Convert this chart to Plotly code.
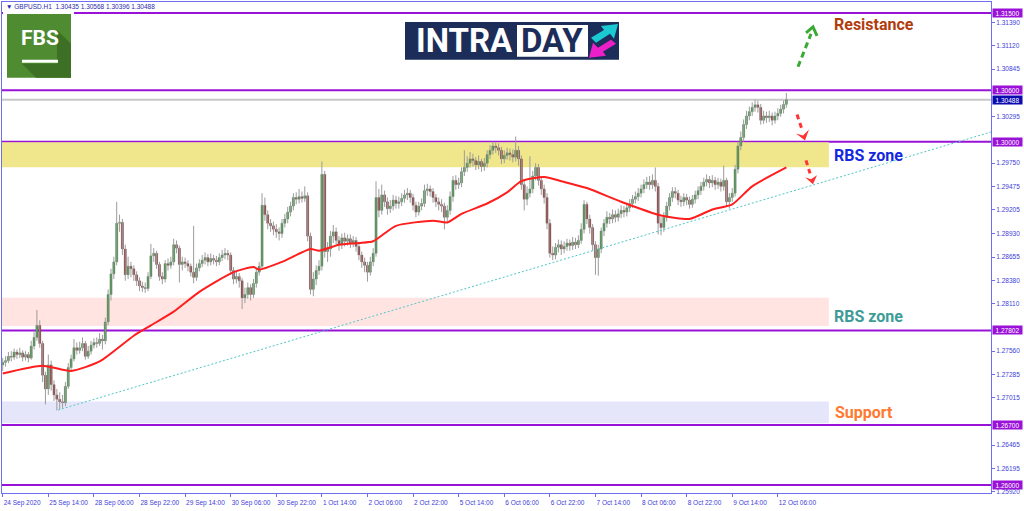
import plotly.graph_objects as go

# GBPUSD H1, one bar per hour from 24 Sep 22:00 to 12 Oct 09:00 (rows = 16 bars)
first_open = 1.2740
close = [
    1.2743, 1.2745, 1.2750, 1.2749, 1.2755, 1.2752, 1.2754, 1.2749, 1.2752, 1.2748, 1.2762, 1.2772, 1.2786, 1.2765, 1.2728, 1.2712,
    1.2740, 1.2717, 1.2705, 1.2700, 1.2697, 1.2696, 1.2715, 1.2737, 1.2747, 1.2760, 1.2757, 1.2760, 1.2765, 1.2750, 1.2756, 1.2763,
    1.2766, 1.2765, 1.2770, 1.2768, 1.2790, 1.2822, 1.2846, 1.2860, 1.2905, 1.2906, 1.2875, 1.2845, 1.2855, 1.2852, 1.2845, 1.2838,
    1.2832, 1.2830, 1.2829, 1.2843, 1.2867, 1.2870, 1.2857, 1.2843, 1.2840, 1.2858, 1.2856, 1.2860, 1.2880, 1.2876, 1.2857, 1.2860,
    1.2858, 1.2855, 1.2848, 1.2842, 1.2853, 1.2858, 1.2862, 1.2865, 1.2860, 1.2864, 1.2862, 1.2860, 1.2865, 1.2868, 1.2870, 1.2868,
    1.2850, 1.2840, 1.2843, 1.2838, 1.2818, 1.2822, 1.2830, 1.2822, 1.2835, 1.2848, 1.2855, 1.2926, 1.2915, 1.2905, 1.2902, 1.2898,
    1.2895, 1.2893, 1.2905, 1.2910, 1.2918, 1.2925, 1.2935, 1.2933, 1.2936, 1.2934, 1.2937, 1.2890, 1.2828, 1.2840, 1.2850, 1.2855,
    1.2962, 1.2872, 1.2875, 1.2890, 1.2895, 1.2885, 1.2880, 1.2888, 1.2884, 1.2887, 1.2882, 1.2885, 1.2878, 1.2868, 1.2860, 1.2856,
    1.2848, 1.2860, 1.2870, 1.2935, 1.2920, 1.2938, 1.2930, 1.2922, 1.2925, 1.2932, 1.2928, 1.2930, 1.2934, 1.2938, 1.2940, 1.2935,
    1.2926, 1.2918, 1.2925, 1.2928, 1.2943, 1.2945, 1.2942, 1.2935, 1.2930, 1.2927, 1.2925, 1.2912, 1.2920, 1.2936, 1.2955, 1.2950,
    1.2952, 1.2965, 1.2970, 1.2975, 1.2980, 1.2978, 1.2973, 1.2977, 1.2971, 1.2975, 1.2985, 1.2990, 1.2995, 1.2993, 1.2990, 1.2980,
    1.2984, 1.2987, 1.2985, 1.2982, 1.2990, 1.2980, 1.2950, 1.2933, 1.2940, 1.2945, 1.2960, 1.2970, 1.2955, 1.2945, 1.2935, 1.2905,
    1.2870, 1.2868, 1.2877, 1.2880, 1.2875, 1.2878, 1.2882, 1.2879, 1.2883, 1.2880, 1.2885, 1.2898, 1.2927, 1.2910, 1.2900, 1.2880,
    1.2865, 1.2875, 1.2896, 1.2905, 1.2912, 1.2910, 1.2915, 1.2912, 1.2916, 1.2920, 1.2918, 1.2923, 1.2928, 1.2933, 1.2936, 1.2940,
    1.2945, 1.2950, 1.2953, 1.2950, 1.2955, 1.2948, 1.2905, 1.2900, 1.2912, 1.2925, 1.2935, 1.2942, 1.2940, 1.2932, 1.2930, 1.2935,
    1.2932, 1.2927, 1.2933, 1.2938, 1.2943, 1.2948, 1.2953, 1.2956, 1.2952, 1.2955, 1.2950, 1.2953, 1.2948, 1.2955, 1.2930, 1.2935,
    1.2940, 1.2968, 1.2995, 1.3005, 1.3020, 1.3030, 1.3035, 1.3040, 1.3043, 1.3040, 1.3025, 1.3030, 1.3028, 1.3030, 1.3025, 1.3030,
    1.3033, 1.3038, 1.30435, 1.30488,
]
high = [
    1.2748, 1.2750, 1.2755, 1.2756, 1.2759, 1.2758, 1.2760, 1.2757, 1.2756, 1.2755, 1.2768, 1.2778, 1.2804, 1.2792, 1.2768, 1.2732,
    1.2752, 1.2745, 1.2722, 1.2712, 1.2708, 1.2705, 1.2720, 1.2742, 1.2752, 1.2770, 1.2766, 1.2767, 1.2772, 1.2768, 1.2762, 1.2768,
    1.2771, 1.2772, 1.2777, 1.2775, 1.2795, 1.2828, 1.2852, 1.2866, 1.2930, 1.2915, 1.2910, 1.2880, 1.2866, 1.2860, 1.2856, 1.2849,
    1.2842, 1.2837, 1.2836, 1.2848, 1.2881, 1.2876, 1.2873, 1.2860, 1.2848, 1.2862, 1.2864, 1.2866, 1.2887, 1.2885, 1.2879, 1.2866,
    1.2865, 1.2862, 1.2858, 1.2902, 1.2858, 1.2863, 1.2868, 1.2871, 1.2869, 1.2870, 1.2868, 1.2867, 1.2870, 1.2874, 1.2876, 1.2874,
    1.2871, 1.2854, 1.2849, 1.2847, 1.2841, 1.2830, 1.2836, 1.2834, 1.2840, 1.2853, 1.2860, 1.2940, 1.2935, 1.2920, 1.2910, 1.2907,
    1.2904, 1.2900, 1.2910, 1.2916, 1.2924, 1.2930, 1.2940, 1.2941, 1.2945, 1.2942, 1.2948, 1.2941, 1.2894, 1.2848, 1.2856, 1.2862,
    1.2977, 1.2966, 1.2883, 1.2896, 1.2903, 1.2900, 1.2890, 1.2893, 1.2894, 1.2892, 1.2892, 1.2890, 1.2889, 1.2881, 1.2872, 1.2865,
    1.2860, 1.2866, 1.2876, 1.2954, 1.2945, 1.2950, 1.2943, 1.2935, 1.2932, 1.2938, 1.2937, 1.2936, 1.2940, 1.2944, 1.2946, 1.2944,
    1.2939, 1.2930, 1.2930, 1.2934, 1.2950, 1.2951, 1.2949, 1.2946, 1.2939, 1.2935, 1.2933, 1.2929, 1.2926, 1.2942, 1.2960, 1.2961,
    1.2958, 1.2970, 1.2990, 1.2983, 1.2988, 1.2986, 1.2982, 1.2984, 1.2980, 1.2981, 1.2990, 1.2996, 1.3000, 1.2999, 1.2998, 1.2994,
    1.2990, 1.2993, 1.2992, 1.2991, 1.3006, 1.2995, 1.2984, 1.2955, 1.2948, 1.2983, 1.2966, 1.2975, 1.2974, 1.2960, 1.2950, 1.2940,
    1.2910, 1.2878, 1.2882, 1.2886, 1.2885, 1.2884, 1.2887, 1.2886, 1.2889, 1.2888, 1.2891, 1.2905, 1.2932, 1.2930, 1.2915, 1.2904,
    1.2884, 1.2880, 1.2900, 1.2910, 1.2919, 1.2917, 1.2921, 1.2920, 1.2922, 1.2926, 1.2925, 1.2929, 1.2933, 1.2938, 1.2942, 1.2946,
    1.2950, 1.2956, 1.2959, 1.2960, 1.2962, 1.2970, 1.2952, 1.2912, 1.2918, 1.2930, 1.2940, 1.2947, 1.2947, 1.2944, 1.2937, 1.2940,
    1.2939, 1.2936, 1.2938, 1.2943, 1.2948, 1.2953, 1.2958, 1.2962, 1.2960, 1.2961, 1.2959, 1.2958, 1.2957, 1.2972, 1.2958, 1.2940,
    1.2946, 1.2973, 1.3000, 1.3012, 1.3026, 1.3036, 1.3041, 1.3046, 1.3049, 1.3048, 1.3044, 1.3036, 1.3035, 1.3036, 1.3034, 1.3035,
    1.3039, 1.3043, 1.3048, 1.30568,
]
low = [
    1.2733, 1.2738, 1.2742, 1.2744, 1.2746, 1.2747, 1.2748, 1.2744, 1.2745, 1.2743, 1.2746, 1.2758, 1.2768, 1.2760, 1.2720, 1.2694,
    1.2705, 1.2710, 1.2698, 1.2687, 1.2688, 1.2690, 1.2692, 1.2712, 1.2733, 1.2744, 1.2752, 1.2753, 1.2756, 1.2746, 1.2747, 1.2752,
    1.2759, 1.2760, 1.2762, 1.2758, 1.2764, 1.2786, 1.2815, 1.2840, 1.2856, 1.2895, 1.2868, 1.2838, 1.2840, 1.2842, 1.2838, 1.2832,
    1.2826, 1.2825, 1.2824, 1.2826, 1.2840, 1.2860, 1.2852, 1.2838, 1.2834, 1.2836, 1.2850, 1.2852, 1.2856, 1.2870, 1.2836, 1.2850,
    1.2853, 1.2849, 1.2843, 1.2835, 1.2838, 1.2849, 1.2854, 1.2857, 1.2855, 1.2856, 1.2857, 1.2855, 1.2856, 1.2861, 1.2863, 1.2862,
    1.2845, 1.2834, 1.2835, 1.2830, 1.2805, 1.2812, 1.2817, 1.2815, 1.2818, 1.2830, 1.2844, 1.2852, 1.2908, 1.2898, 1.2895, 1.2891,
    1.2888, 1.2885, 1.2888, 1.2900, 1.2905, 1.2913, 1.2920, 1.2927, 1.2928, 1.2929, 1.2930, 1.2884, 1.2822, 1.2820, 1.2833, 1.2845,
    1.2850, 1.2865, 1.2860, 1.2866, 1.2882, 1.2878, 1.2873, 1.2875, 1.2878, 1.2879, 1.2876, 1.2877, 1.2872, 1.2862, 1.2853, 1.2848,
    1.2837, 1.2844, 1.2855, 1.2866, 1.2912, 1.2915, 1.2924, 1.2915, 1.2917, 1.2920, 1.2922, 1.2922, 1.2925, 1.2929, 1.2932, 1.2929,
    1.2920, 1.2912, 1.2914, 1.2920, 1.2924, 1.2937, 1.2936, 1.2929, 1.2924, 1.2920, 1.2918, 1.2898, 1.2906, 1.2915, 1.2930, 1.2944,
    1.2945, 1.2947, 1.2960, 1.2965, 1.2970, 1.2971, 1.2967, 1.2968, 1.2965, 1.2966, 1.2970, 1.2980, 1.2985, 1.2987, 1.2984, 1.2974,
    1.2975, 1.2979, 1.2978, 1.2976, 1.2977, 1.2972, 1.2944, 1.2920, 1.2926, 1.2935, 1.2940, 1.2955, 1.2949, 1.2938, 1.2928, 1.2898,
    1.2865, 1.2862, 1.2863, 1.2871, 1.2868, 1.2870, 1.2873, 1.2873, 1.2874, 1.2875, 1.2876, 1.2881, 1.2893, 1.2904, 1.2893, 1.2873,
    1.2845, 1.2844, 1.2870, 1.2890, 1.2900, 1.2904, 1.2905, 1.2906, 1.2907, 1.2911, 1.2912, 1.2913, 1.2918, 1.2923, 1.2928, 1.2931,
    1.2935, 1.2940, 1.2945, 1.2944, 1.2945, 1.2942, 1.2892, 1.2891, 1.2895, 1.2907, 1.2920, 1.2930, 1.2934, 1.2926, 1.2924, 1.2925,
    1.2926, 1.2922, 1.2923, 1.2928, 1.2933, 1.2938, 1.2943, 1.2948, 1.2946, 1.2947, 1.2944, 1.2945, 1.2942, 1.2943, 1.2924, 1.2922,
    1.2930, 1.2936, 1.2963, 1.2990, 1.3000, 1.3015, 1.3025, 1.3030, 1.3035, 1.3034, 1.3020, 1.3021, 1.3022, 1.3023, 1.3019, 1.3021,
    1.3025, 1.3029, 1.3033, 1.30396,
]

# moving average, read at a few bars
ma_bar = [0, 14, 24, 34, 46, 52, 60, 69, 81, 88, 90, 98, 108, 111, 118, 125, 130, 138,
          151, 156, 161, 170, 177, 182, 190, 196, 205, 217, 231, 241, 249, 256, 263, 275]
ma_val = [1.2730, 1.2739, 1.2733, 1.2744, 1.2774, 1.2786, 1.2802, 1.2825, 1.2848, 1.2854,
          1.2851, 1.2860, 1.2875, 1.2873, 1.2880, 1.2882, 1.2884, 1.2902, 1.2908, 1.2906,
          1.2916, 1.2928, 1.2941, 1.2954, 1.2959, 1.2954, 1.2946, 1.2930, 1.2914, 1.2910,
          1.2921, 1.2927, 1.2948, 1.2970]

# trend line (bar, price) and levels
trend_bar = [19.4, 346.8]
trend_val = [1.26874, 1.30113]
levels = [1.31500, 1.30600, 1.30000, 1.27802, 1.26700, 1.26000]
last_price = 1.30488
zone_top = [1.29995, 1.28181, 1.26975]
zone_bottom = [1.29701, 1.27853, 1.26719]
zone_colors = ["#F0E68C", "#FFE4E1", "#E6E6FA"]

time_labels = ["24 Sep 2020", "25 Sep 14:00", "28 Sep 06:00", "28 Sep 22:00", "29 Sep 14:00",
               "30 Sep 06:00", "30 Sep 22:00", "1 Oct 14:00", "2 Oct 06:00", "2 Oct 22:00",
               "5 Oct 14:00", "6 Oct 06:00", "6 Oct 22:00", "7 Oct 14:00", "8 Oct 06:00",
               "8 Oct 22:00", "9 Oct 14:00", "12 Oct 06:00"]
# ticks that are not hidden behind the level labels
price_ticks = [1.31390, 1.31120, 1.30845, 1.30295, 1.29750, 1.29475,
               1.29205, 1.28930, 1.28655, 1.28380, 1.28110, 1.27560, 1.27285,
               1.27015, 1.26465, 1.26195, 1.25920]

W, H = 1024, 511
AXIS = "#6E6EF0"
TICKTXT = "#4040D8"
PURPLE = "#9A12D8"
BULL, BEAR, WICK = "#16901A", "#8B0A0A", "#9C9C9C"


def px(x):
    return x / W


def py(y):
    return 1 - y / H


bars = list(range(len(close)))
opens = [first_open] + close[:-1]

fig = go.Figure()

# wicks
wx, wy = [], []
for i, h, l in zip(bars, high, low):
    wx += [i, i, None]
    wy += [l, h, None]
fig.add_trace(go.Scatter(x=wx, y=wy, mode="lines", line=dict(color=WICK, width=1),
                         hoverinfo="skip"))

# bodies
fig.add_trace(go.Bar(
    x=bars,
    base=[min(o, c) for o, c in zip(opens, close)],
    y=[max(abs(c - o), 0.00008) for o, c in zip(opens, close)],
    width=0.75,
    marker=dict(color=[BULL if c >= o else BEAR for o, c in zip(opens, close)],
                line=dict(color="#707070", width=0.4)),
    hoverinfo="skip",
))

fig.add_trace(go.Scatter(x=ma_bar, y=ma_val, mode="lines",
                         line=dict(color="#FF1E1E", width=2, shape="spline", smoothing=0.6)))
fig.add_trace(go.Scatter(x=trend_bar, y=trend_val, mode="lines",
                         line=dict(color="#52C6C6", width=1, dash="2px,2px")))

shapes = []
for top, bot, col in zip(zone_top, zone_bottom, zone_colors):
    shapes.append(dict(type="rect", xref="x", yref="y", x0=-0.25, x1=289.9, y0=bot, y1=top,
                       fillcolor=col, line=dict(width=0), layer="below"))
shapes.append(dict(type="line", xref="paper", yref="y", x0=px(2), x1=px(991),
                   y0=last_price, y1=last_price, line=dict(color="#C8C8C8", width=2), layer="below"))
for lv in levels:
    shapes.append(dict(type="line", xref="paper", yref="y", x0=px(2), x1=px(991), y0=lv, y1=lv,
                       line=dict(color=PURPLE, width=2), layer="below"))


def poly(points, color):
    d = "M " + " L ".join(f"{px(x):.5f},{py(y):.5f}" for x, y in points) + " Z"
    return dict(type="path", xref="paper", yref="paper", path=d, fillcolor=color,
                line=dict(width=0), layer="above")


def seg(x0, y0, x1, y1, color, width, dash="solid"):
    return dict(type="line", xref="paper", yref="paper", x0=px(x0), y0=py(y0), x1=px(x1), y1=py(y1),
                line=dict(color=color, width=width, dash=dash), layer="above")


# FBS logo
shapes.append(dict(type="rect", xref="paper", yref="paper", x0=px(3), x1=px(74), y0=py(81), y1=py(9),
                   fillcolor="white", line=dict(width=0), layer="above"))
shapes.append(dict(type="rect", xref="paper", yref="paper", x0=px(7), x1=px(71), y0=py(78), y1=py(14),
                   fillcolor="#4E8B31", line=dict(width=0), layer="above"))
shapes.append(poly([(57, 30), (71, 44), (71, 78), (36, 78), (22, 64), (57, 64)], "#3D7024"))
shapes.append(dict(type="rect", xref="paper", yref="paper", x0=px(22), x1=px(58), y0=py(63), y1=py(60),
                   fillcolor="white", line=dict(width=0), layer="above"))

# INTRADAY logo
shapes.append(dict(type="rect", xref="paper", yref="paper", x0=px(405), x1=px(619), y0=py(60), y1=py(22),
                   fillcolor="#1C2D5A", line=dict(width=0), layer="above"))
shapes.append(dict(type="rect", xref="paper", yref="paper", x0=px(517), x1=px(588), y0=py(57), y1=py(25),
                   fillcolor="white", line=dict(width=0), layer="above"))
shapes.append(poly([(591, 38), (604, 30), (601, 26), (618, 24), (614, 39), (610, 34), (596, 43)], "#1BC9D2"))
shapes.append(poly([(616, 44), (603, 52), (606, 56), (589, 58), (593, 43), (598, 48), (611, 40)], "#EC1FC8"))

# drawn arrows
shapes.append(seg(798, 67, 811, 34, "#3AAA35", 3, "6px,4px"))
shapes.append(dict(type="path", xref="paper", yref="paper",
                   path=f"M {px(806):.5f},{py(33):.5f} L {px(813):.5f},{py(27):.5f} L {px(817):.5f},{py(36):.5f}",
                   line=dict(color="#3AAA35", width=3), layer="above"))
shapes.append(seg(797, 115, 802, 130, "#FF3333", 3, "5px,4px"))
shapes.append(poly([(805, 141), (796, 134), (803, 136), (809, 130)], "#FF3333"))
shapes.append(seg(806, 161, 810, 174, "#FF3333", 3, "5px,4px"))
shapes.append(poly([(813, 185), (805, 178), (811, 180), (817, 176)], "#FF3333"))

annotations = []
for lv in levels:
    annotations.append(dict(xref="paper", yref="y", x=px(992), y=lv, xanchor="left", yanchor="middle",
                            text=f"{lv:.5f}", showarrow=False, bgcolor=PURPLE, width=29, height=8,
                            borderpad=0, font=dict(family="Liberation Sans", size=6.5, color="white")))
annotations.append(dict(xref="paper", yref="y", x=px(992), y=last_price, xanchor="left", yanchor="middle",
                        text=f"{last_price:.5f}", showarrow=False, bgcolor="#0B0BB0", width=29, height=8,
                        borderpad=0, font=dict(family="Liberation Sans", size=6.5, color="white")))


def label(x, y, text, color, size=16, family="Roboto"):
    annotations.append(dict(xref="paper", yref="paper", x=px(x), y=py(y), text=f"<b>{text}</b>",
                            showarrow=False, xanchor="center", yanchor="middle",
                            font=dict(family=family, size=size, color=color)))


label(874, 25, "Resistance", "#B23C0E")
label(868, 156, "RBS zone", "#1428E0")
label(868, 318, "RBS zone", "#3E9C97")
label(864, 414, "Support", "#FF7A30")
label(40, 38, "FBS", "white", 21)
label(464, 41, "INTRA", "white", 33)
label(552, 41, "DAY", "#1C2D5A", 33)
annotations.append(dict(xref="paper", yref="paper", x=px(4), y=py(7), xanchor="left", yanchor="middle",
                        showarrow=False, text="▼ GBPUSD.H1  1.30435 1.30568 1.30396 1.30488",
                        font=dict(family="Liberation Sans", size=6.5, color="#2A2AB0")))

fig.update_layout(
    width=W, height=H,
    margin=dict(l=0, r=0, t=0, b=0),
    paper_bgcolor="white", plot_bgcolor="white",
    showlegend=False, barmode="overlay",
    shapes=shapes, annotations=annotations,
    xaxis=dict(domain=[px(2), px(991)], range=[-0.25, 346.8], showgrid=False, zeroline=False,
               showline=True, mirror=True, linecolor=AXIS, linewidth=1,
               ticks="outside", ticklen=3, tickcolor=AXIS, tickangle=0, ticklabelstandoff=3,
               tickvals=[16 * k for k in range(len(time_labels))], ticktext=time_labels,
               ticklabelposition="outside right",
               tickfont=dict(family="Liberation Sans", size=6.5, color=TICKTXT)),
    yaxis=dict(domain=[py(495), py(2)], range=[1.25907, 1.316276], side="right", showgrid=False,
               zeroline=False, showline=True, mirror=True, linecolor=AXIS, linewidth=1,
               ticks="outside", ticklen=3, tickcolor=AXIS, tickvals=price_ticks, tickformat=".5f",
               tickfont=dict(family="Liberation Sans", size=6.5, color=TICKTXT)),
)

fig.write_html("out.html", config={"displayModeBar": False},
               post_script="document.body.style.margin='0';document.body.style.overflow='hidden';")
